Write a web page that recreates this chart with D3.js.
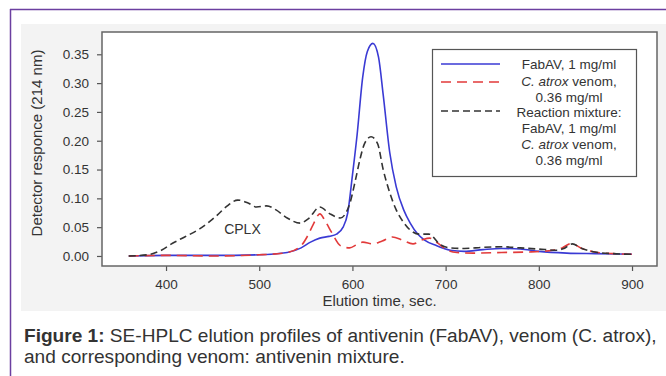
<!DOCTYPE html>
<html>
<head>
<meta charset="utf-8">
<script src="https://cdn.jsdelivr.net/npm/d3@7"></script>
<style>
  body { margin: 0; background: #fff; }
  text { font-family: "Liberation Sans", Arial, sans-serif; fill: #333; }
</style>
</head>
<body>
<svg width="666" height="376"></svg>
<script>
// Values (time in sec, response in AU)
var fabTime = [360, 400, 450, 500, 530, 545, 555, 565, 575, 583, 590, 595, 600, 605, 611, 616, 622, 628, 633, 640, 647, 655, 662, 670, 677, 690, 705, 720, 740, 760, 780, 800, 830, 860, 900];
var fabValue = [0, 0.001, 0.001, 0.002, 0.006, 0.014, 0.024, 0.031, 0.034, 0.038, 0.05, 0.075, 0.14, 0.21, 0.31, 0.355, 0.369, 0.345, 0.28, 0.18, 0.12, 0.08, 0.057, 0.038, 0.028, 0.018, 0.01, 0.008, 0.011, 0.013, 0.012, 0.008, 0.005, 0.004, 0.003];

var venomTime = [360, 400, 450, 500, 530, 545, 552, 558, 565, 571, 578, 587, 597, 605, 611, 622, 632, 643, 653, 665, 675, 683, 692, 700, 712, 730, 760, 790, 815, 825, 835, 845, 860, 880, 900];
var venomValue = [0, 0.001, 0, 0.002, 0.006, 0.018, 0.035, 0.055, 0.073, 0.06, 0.04, 0.018, 0.014, 0.02, 0.024, 0.021, 0.026, 0.033, 0.028, 0.021, 0.028, 0.031, 0.022, 0.012, 0.006, 0.005, 0.006, 0.007, 0.01, 0.014, 0.022, 0.014, 0.007, 0.004, 0.003];

var mixTime = [360, 380, 395, 407, 420, 436, 447, 455, 465, 477, 488, 497, 508, 518, 530, 544, 553, 565, 575, 587, 597, 603, 608, 613, 620, 627, 633, 640, 647, 655, 662, 672, 682, 694, 705, 720, 740, 760, 780, 800, 820, 827, 836, 845, 860, 880, 900];
var mixValue = [0, 0.002, 0.01, 0.022, 0.033, 0.047, 0.06, 0.071, 0.086, 0.097, 0.092, 0.085, 0.087, 0.08, 0.066, 0.057, 0.065, 0.085, 0.074, 0.066, 0.09, 0.13, 0.167, 0.195, 0.207, 0.195, 0.15, 0.11, 0.08, 0.058, 0.045, 0.038, 0.038, 0.02, 0.014, 0.013, 0.015, 0.016, 0.014, 0.012, 0.01, 0.013, 0.021, 0.014, 0.007, 0.004, 0.003];

var xTicks = [400, 500, 600, 700, 800, 900];
var yTicks = [0, 0.05, 0.10, 0.15, 0.20, 0.25, 0.30, 0.35];

var svg = d3.select("svg");

// page decoration: purple border + grey panel
svg.append("rect").attr("x", 21).attr("y", 24).attr("width", 645).attr("height", 287).attr("fill", "#f3f3f3");
svg.append("line").attr("x1", 10.5).attr("x2", 10.5).attr("y1", 9).attr("y2", 376).attr("stroke", "#6b3fa0").attr("stroke-width", 1.5);
svg.append("line").attr("x1", 10).attr("x2", 666).attr("y1", 9.5).attr("y2", 9.5).attr("stroke", "#6b3fa0").attr("stroke-width", 1.5);

// plot box (note: "top" is a reserved global, so prefixed names)
var plotL = 102, plotR = 657, plotT = 32, plotB = 266;

var x = d3.scaleLinear().domain([331.3, 926.8]).range([plotL, plotR]);
var y = d3.scaleLinear().domain([-0.0174, 0.3887]).range([plotB, plotT]);

svg.append("rect").attr("x", plotL).attr("y", plotT).attr("width", plotR - plotL).attr("height", plotB - plotT)
    .attr("fill", "#fff");

// axes
var yAxis = svg.append("g").attr("transform", "translate(" + plotL + ",0)")
    .call(d3.axisLeft(y).tickValues(yTicks).tickFormat(d3.format(".2f")).tickSize(5).tickPadding(8));
var xAxis = svg.append("g").attr("transform", "translate(0," + plotB + ")")
    .call(d3.axisBottom(x).tickValues(xTicks).tickFormat(d3.format("d")).tickSize(5).tickPadding(8));
[yAxis, xAxis].forEach(function(a) {
    a.select(".domain").remove();
    a.selectAll("line").attr("stroke", "#555").attr("stroke-width", 1.2);
    a.selectAll("text").attr("font-size", 13.5).attr("font-family", "Liberation Sans, Arial, sans-serif").attr("fill", "#333");
});

// lines
function series(t, v) { return t.map(function(d, i) { return [d, v[i]]; }); }
var line = d3.line()
    .x(function(d) { return x(d[0]); })
    .y(function(d) { return y(d[1]); })
    .curve(d3.curveMonotoneX);

svg.append("path").datum(series(fabTime, fabValue)).attr("d", line)
    .attr("fill", "none").attr("stroke", "#3a3ad4").attr("stroke-width", 1.6);
svg.append("path").datum(series(venomTime, venomValue)).attr("d", line)
    .attr("fill", "none").attr("stroke", "#e23a3a").attr("stroke-width", 1.6).attr("stroke-dasharray", "10,6");
svg.append("path").datum(series(mixTime, mixValue)).attr("d", line)
    .attr("fill", "none").attr("stroke", "#333").attr("stroke-width", 1.6).attr("stroke-dasharray", "7,4");

// frame
svg.append("rect").attr("x", plotL).attr("y", plotT).attr("width", plotR - plotL).attr("height", plotB - plotT)
    .attr("fill", "none").attr("stroke", "#666").attr("stroke-width", 1.5);

svg.append("text").attr("x", x(482)).attr("y", y(0.047) + 5).attr("text-anchor", "middle")
    .attr("font-size", 14).text("CPLX");

// axis titles
svg.append("text").attr("x", (plotL + plotR) / 2).attr("y", 306).attr("text-anchor", "middle")
    .attr("font-size", 15).text("Elution time, sec.");
svg.append("text").attr("transform", "translate(42," + 143 + ") rotate(-90)").attr("text-anchor", "middle")
    .attr("font-size", 15).text("Detector responce (214 nm)");

// legend
var lg = svg.append("g");
lg.append("rect").attr("x", 432.5).attr("y", 49.5).attr("width", 204).attr("height", 127)
    .attr("fill", "#fff").attr("stroke", "#555").attr("stroke-width", 1.2);
var legendItems = [
    { y: 64, color: "#3a3ad4", dash: null },
    { y: 82, color: "#e23a3a", dash: "10,6" },
    { y: 111, color: "#333", dash: "7,4" }
];
legendItems.forEach(function(d) {
    lg.append("line").attr("x1", 441).attr("x2", 500).attr("y1", d.y).attr("y2", d.y)
        .attr("stroke", d.color).attr("stroke-width", 1.6).attr("stroke-dasharray", d.dash);
});
var legendLines = [
    [{ t: "FabAV, 1 mg/ml" }],
    [{ t: "C. atrox", i: true }, { t: " venom," }],
    [{ t: "0.36 mg/ml" }],
    [{ t: "Reaction mixture:" }],
    [{ t: "FabAV, 1 mg/ml" }],
    [{ t: "C. atrox", i: true }, { t: " venom," }],
    [{ t: "0.36 mg/ml" }]
];
var legendY = [64, 81, 97, 112, 128, 144, 160];
legendLines.forEach(function(parts, k) {
    var tx = lg.append("text").attr("x", 569).attr("y", legendY[k] + 4.5).attr("text-anchor", "middle").attr("font-size", 13.5);
    parts.forEach(function(p) {
        tx.append("tspan").attr("font-style", p.i ? "italic" : null).text(p.t);
    });
});

// caption
var cap1 = svg.append("text").attr("x", 24).attr("y", 342).attr("font-size", 16);
cap1.append("tspan").attr("font-weight", "bold").text("Figure 1:");
cap1.append("tspan").text(" SE-HPLC elution profiles of antivenin (FabAV), venom (C. atrox),");
var cap2 = svg.append("text").attr("x", 24).attr("y", 363).attr("font-size", 16)
    .text("and corresponding venom: antivenin mixture.");
// fit caption width to the reference (line 1 spans to x ~ 657)
var w = cap1.node().getComputedTextLength();
var fs = 16 * 633 / w;
cap1.attr("font-size", fs);
cap2.attr("font-size", fs);
</script>
</body>
</html>
